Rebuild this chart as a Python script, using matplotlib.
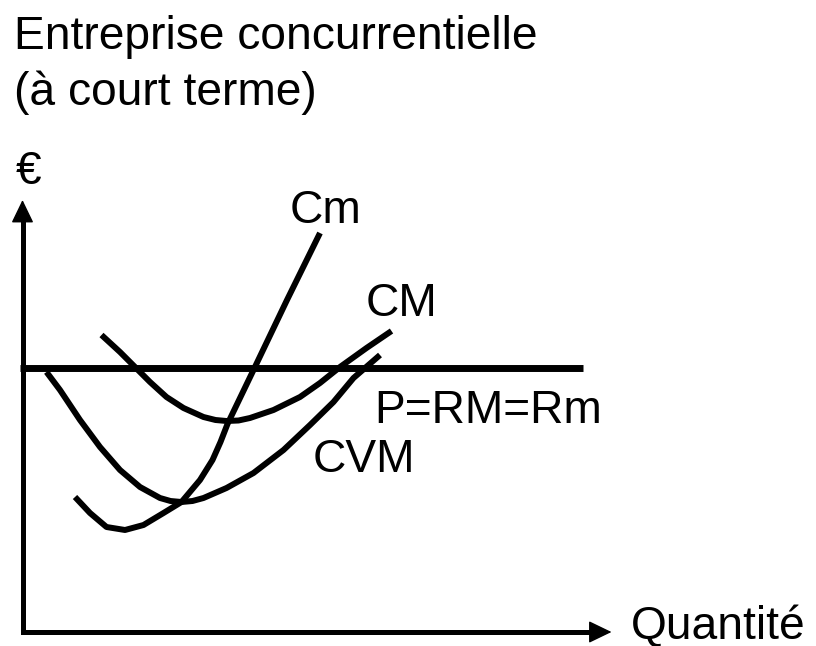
import matplotlib
matplotlib.use("Agg")
import matplotlib.pyplot as plt

plt.rcParams["font.family"] = ["Liberation Sans", "DejaVu Sans"]

# points: quantity (x) and euro (y), origin at the axes corner
cm_q = [52.5, 67.5, 84, 102.5, 121, 141, 159, 177.5, 190, 198, 205, 231, 264.5, 297.5]
cm_p = [135, 119, 105, 102, 107, 119, 130, 152, 172, 190, 208, 262, 332, 399]

cmoy_q = [79, 97.5, 112.5, 127.5, 144, 161, 181, 193, 204, 216, 227.5, 251, 277.5, 297.5, 317.5, 344, 369]
cmoy_p = [297, 280, 265, 250, 235, 224, 215, 212, 211, 211.5, 214, 222, 235, 249, 265, 284, 301]

cvm_q = [24, 37.5, 57.5, 77.5, 97.5, 117.5, 137.5, 148, 159, 170, 181, 204, 231, 261, 287.5, 311, 331, 357.5]
cvm_p = [260, 242, 212, 185, 162, 145, 134, 131, 130, 131, 134, 144, 159, 182, 207, 230, 254, 277]

prix_q = [-2.5, 560.5]
prix_p = [264.5, 264.5]

fig = plt.figure(figsize=(8.16, 6.46), dpi=100)
ax = fig.add_axes([0, 0, 1, 1])
ax.set_xlim(-22.5, 793.5)
ax.set_ylim(-14, 632)
ax.axis("off")

ax.plot(prix_q, prix_p, color="black", lw=5, solid_capstyle="butt")
for q, p in [(cm_q, cm_p), (cmoy_q, cmoy_p), (cvm_q, cvm_p)]:
    ax.plot(q, p, color="black", lw=4.3, solid_capstyle="butt", solid_joinstyle="round")

# axes with arrow heads
ax.plot([0, 0, 575], [420, 0, 0], color="black", lw=3.6,
        solid_capstyle="butt", solid_joinstyle="miter")
head = dict(arrowstyle="-|>,head_length=1.45,head_width=0.7", lw=1, color="black",
            shrinkA=0, shrinkB=0, mutation_scale=10)
ax.annotate("", xy=(0, 432), xytext=(0, 405), arrowprops=head)
ax.annotate("", xy=(589, 0), xytext=(562, 0), arrowprops=head)

fs = 33.2
fig.text(14 / 816, 1 - 49 / 646, "Entreprise concurrentielle", fontsize=fs, va="baseline")
fig.text(14 / 816, 1 - 105 / 646, "(à court terme)", fontsize=fs, va="baseline")

ax.text(5.5, 632 - 184, "€", fontsize=fs, ha="center", va="baseline")
ax.text(267.5, 632 - 223, "Cm", fontsize=fs, va="baseline")
ax.text(343.5, 632 - 316, "CM", fontsize=fs, va="baseline")
ax.text(351.5, 632 - 423, "P=RM=Rm", fontsize=fs, va="baseline")
ax.text(290.5, 632 - 472, "CVM", fontsize=fs, va="baseline")
ax.text(608, 632 - 639, "Quantité", fontsize=fs, va="baseline")

fig.savefig("out.png", dpi=100)
